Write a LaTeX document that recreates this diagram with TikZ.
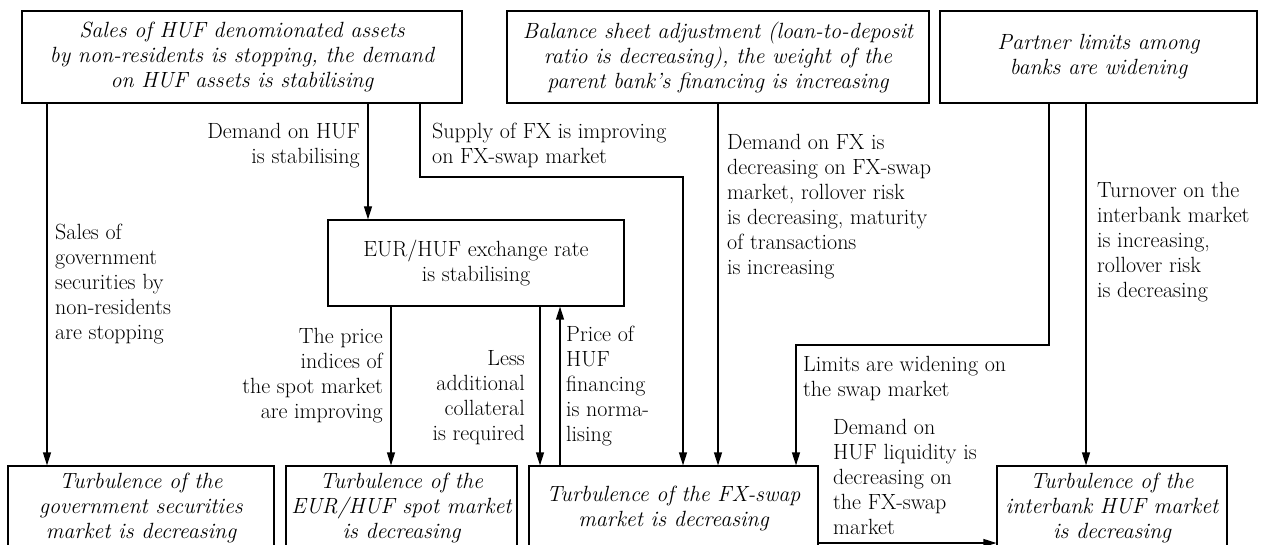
\documentclass[tikz,border=0pt]{standalone}
\usepackage{fontspec}
\usepackage{tikz}
\usetikzlibrary{arrows.meta}
\usetikzlibrary{calc}

\begin{document}
\begin{tikzpicture}[x=1pt, y=-1pt,
    every node/.style={font=\fontsize{22}{25}\selectfont},
    box/.style={rectangle, draw=black, line width=1.2pt, inner sep=0pt, align=center, font=\fontsize{22}{25}\selectfont\itshape},
    lbl/.style={inner sep=0pt},
    arr/.style={-{Triangle[length=13pt, width=8pt]}, line width=1.2pt}]

      % Frame of the page
      \useasboundingbox (0,0) rectangle (1262,545);

      % Causes (top row)
      \node[box, minimum width=440pt, minimum height=92pt] (src) at (242,57) {Sales of HUF denomionated assets\\by non-residents is stopping, the demand\\on HUF assets is stabilising};
      \node[box, minimum width=422pt, minimum height=92pt] (bal) at (718,57) {Balance sheet adjustment (loan-to-deposit\\ratio is decreasing), the weight of the\\parent bank's financing is increasing};
      \node[box, minimum width=317pt, minimum height=92pt] (part) at (1098.5,57) {Partner limits among\\banks are widening};

      % Exchange rate in the middle
      \node[box, minimum width=296pt, minimum height=86pt, font=\fontsize{22}{25}\selectfont] (eur) at (476,263) {EUR/HUF exchange rate\\is stabilising};

      % Markets (bottom row)
      \node[box, minimum width=266pt, minimum height=84pt] (gov) at (141,508) {Turbulence of the\\government securities\\market is decreasing};
      \node[box, minimum width=231pt, minimum height=84pt] (spot) at (401.5,508) {Turbulence of the\\EUR/HUF spot market\\is decreasing};
      \node[box, minimum width=289pt, minimum height=84pt] (swap) at (673.5,508) {Turbulence of the FX-swap\\market is decreasing};
      \node[box, minimum width=230pt, minimum height=84pt] (inter) at (1112,508) {Turbulence of the\\interbank HUF market\\is decreasing};

      % Where the connectors run
      \coordinate (gx) at (47,0);
      \coordinate (dx) at (368,0);
      \coordinate (sup1) at (420,177);
      \coordinate (sup2) at (683,177);
      \coordinate (bx) at (718,0);
      \coordinate (lim1) at (1049,345);
      \coordinate (lim2) at (796,345);
      \coordinate (tx) at (1086,0);
      \coordinate (px) at (391,0);
      \coordinate (cx) at (540,0);
      \coordinate (fx) at (560,0);
      \coordinate (ly) at (0,543);

      % Connectors
      \draw[arr] (src.south -| gx) -- (gov.north -| gx);
      \draw[arr] (src.south -| dx) -- (eur.north -| dx);
      \draw[arr] (src.south -| sup1) -- (sup1) -- (sup2) -- (swap.north -| sup2);
      \draw[arr] (bal.south -| bx) -- (swap.north -| bx);
      \draw[arr] (part.south -| lim1) -- (lim1) -- (lim2) -- (swap.north -| lim2);
      \draw[arr] (part.south -| tx) -- (inter.north -| tx);
      \draw[arr] (eur.south -| px) -- (spot.north -| px);
      \draw[arr] (eur.south -| cx) -- (swap.north -| cx);
      \draw[arr] (swap.north -| fx) -- (eur.south -| fx);
      \draw[arr] (swap.east |- ly) -- (inter.west |- ly);

      % Labels of the connectors
      \node[lbl, anchor=west, align=left] (govlbl) at (55,284) {Sales of\\government\\securities by\\non-residents\\are stopping};
      \node[lbl, anchor=east, align=right] (demlbl) at (360,146) {Demand on HUF\\is stabilising};
      \node[lbl, anchor=west, align=left] (suplbl) at (432,145) {Supply of FX is improving\\on FX-swap market};
      \node[lbl, anchor=west, align=left] (fxlbl) at (727,207) {Demand on FX is\\decreasing on FX-swap\\market, rollover risk\\is decreasing, maturity\\of transactions\\is increasing};
      \node[lbl, anchor=west, align=left] (turnlbl) at (1097,242) {Turnover on the\\interbank market\\is increasing,\\rollover risk\\is decreasing};
      \node[lbl, anchor=east, align=right] (prlbl) at (383,376) {The price\\indices of\\the spot market\\are improving};
      \node[lbl, anchor=east, align=right] (colllbl) at (525,398) {Less\\additional\\collateral\\is required};
      \node[lbl, anchor=west, align=left] (pricelbl) at (566,386) {Price of\\HUF\\financing\\is norma-\\lising};
      \node[lbl, anchor=west, align=left] (limlbl) at (803,379) {Limits are widening on\\the swap market};
      \node[lbl, anchor=west, align=left] (liqlbl) at (833,477) {Demand on\\HUF liquidity is\\decreasing on\\the FX-swap\\market};

    \end{tikzpicture}
\end{document}
